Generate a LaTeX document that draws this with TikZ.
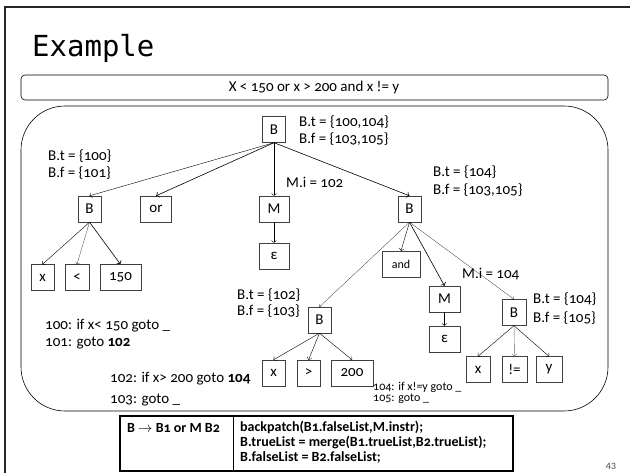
\documentclass[tikz,border=0pt]{standalone}
\usepackage{fontspec}
\setmainfont{Carlito}[Numbers=OldStyle]
\newfontfamily\titlefont{DejaVu Sans Mono}
\usetikzlibrary{arrows.meta}

\begin{document}
\begin{tikzpicture}[x=1pt, y=-1pt,
    tbox/.style={draw=black!75, thin, minimum width=23pt, minimum height=26pt, inner xsep=6pt, font=\fontsize{15}{15}\selectfont},
    attr/.style={anchor=west, inner sep=0pt, font=\fontsize{15}{17}\selectfont},
    small/.style={anchor=west, inner sep=0pt, font=\fontsize{12}{13}\selectfont},
    edge/.style={->, thin}]
    \useasboundingbox (0,0) rectangle (630,473);

    % Slide frame and title
    \draw[line width=2.5pt, black!85] (5,473) -- (5,7) -- (630,7);
    \node[anchor=base west, inner sep=0pt, font=\titlefont\fontsize{29}{29}\selectfont] (title) at (32,57) {Example};

    % Expression
    \draw[semithick, rounded corners=4pt] (21,75) rectangle (608,100);
    \node[font=\fontsize{15}{15}\selectfont] (expr) at (314,87.5) {X < 150 or x > 200 and x != y};

    % Parse tree frame
    \draw[semithick, rounded corners=44pt] (21,106) rectangle (608,411);

    % Tree nodes
    \node[tbox] (topB) at (274,129.5) {B};
    \node[tbox] (bA) at (89.5,209) {B};
    \node[tbox, minimum width=31pt] (orN) at (156,209) {or};
    \node[tbox, minimum width=30pt] (mA) at (274,209) {M};
    \node[tbox, minimum width=30pt] (epsA) at (274,256) {ε};
    \node[tbox] (xA) at (42.5,277.5) {x};
    \node[tbox, minimum width=24pt] (ltA) at (77,277.5) {<};
    \node[tbox, minimum width=41pt] (numA) at (120.5,277.5) {150};
    \node[tbox] (bB) at (409.5,209) {B};
    \node[tbox, minimum width=38pt, font=\fontsize{12}{12}\selectfont] (andN) at (401,264) {and};
    \node[tbox, minimum width=31pt] (mB) at (444.5,299) {M};
    \node[tbox, minimum width=31pt] (epsB) at (444.5,339) {ε};
    \node[tbox] (bC) at (319.5,320) {B};
    \node[tbox] (xB) at (273.5,373) {x};
    \node[tbox] (gtB) at (308.5,373) {>};
    \node[tbox, minimum width=42pt] (numB) at (352,373) {200};
    \node[tbox, minimum width=24pt] (bD) at (514,312.5) {B};
    \node[tbox, minimum width=24pt] (xC) at (478,369.5) {x};
    \node[tbox, minimum width=25pt] (neqC) at (514.5,369.5) {!=};
    \node[tbox, minimum width=26pt] (yC) at (549,369.5) {y};

    % Tree edges
    \draw[edge] (topB.south) -- (bA.north);
    \draw[edge, semithick] (topB.south) -- (orN.north);
    \draw[edge] (topB.south) -- (mA.north);
    \draw[edge, semithick] (topB.south) -- (bB.north);
    \draw[edge] (bA.south) -- (xA.north);
    \draw[edge, very thin] (bA.south) -- (ltA.north);
    \draw[edge, semithick] (bA.south) -- (numA.north);
    \draw[edge] (mA.south) -- (epsA.north);
    \draw[edge, very thin] (bB.south) -- (bC.north);
    \draw[edge] (bB.south) -- (andN.north);
    \draw[edge, semithick] (bB.south) -- (mB.north);
    \draw[edge, very thin] (bB.south) -- (bD.north);
    \draw[edge] (mB.south) -- (epsB.north);
    \draw[edge] (bC.south) -- (xB.north);
    \draw[edge] (bC.south) -- (gtB.north);
    \draw[edge] (bC.south) -- (numB.north);
    \draw[edge] (bD.south) -- (xC.north);
    \draw[edge, black!60] (bD.south) -- (neqC.north);
    \draw[edge] (bD.south) -- (yC.north);

    % Attributes
    \node[attr] (tBt) at (299,122) {B.t = \{100,104\}};
    \node[attr] (tBf) at (299,139) {B.f = \{103,105\}};
    \node[attr] (aBt) at (48,156) {B.t = \{100\}};
    \node[attr] (aBf) at (48,173) {B.f = \{101\}};
    \node[attr] (mAi) at (286,182) {M.i = 102};
    \node[attr] (bBt) at (433,172) {B.t = \{104\}};
    \node[attr] (bBf) at (433,190) {B.f = \{103,105\}};
    \node[attr] (mBi) at (462,274) {M.i = 104};
    \node[attr] (cBt) at (237,295) {B.t = \{102\}};
    \node[attr] (cBf) at (237,311) {B.f = \{103\}};
    \node[attr] (dBt) at (533,299) {B.t = \{104\}};
    \node[attr] (dBf) at (533,318) {B.f = \{105\}};

    % Generated code
    \node[attr] (codeA) at (45,326) {100: if x< 150 goto \_};
    \node[attr] (codeB) at (45,343) {101: goto \textbf{102}};
    \node[attr] (codeC) at (110,379) {102: if x> 200 goto \textbf{104}};
    \node[attr] (codeD) at (110,400) {103: goto \_};
    \node[small] (codeE) at (373,387) {104: if x!=y goto \_};
    \node[small] (codeF) at (373,399) {105: goto \_};

    % Semantic rule
    \draw[line width=2pt] (120,416) rectangle (513,471);
    \draw[thin] (233,416) -- (233,471);
    \node[anchor=west, inner sep=0pt, font=\bfseries\fontsize{14}{15}\selectfont] (prod) at (127,428) {B $\rightarrow$ B1 or M B2};
    \node[anchor=north west, inner sep=0pt, align=left, font=\bfseries\fontsize{14}{15}\selectfont] (rule) at (240,421) {backpatch(B1.falseList,M.instr);\\B.trueList = merge(B1.trueList,B2.trueList);\\B.falseList = B2.falseList;};

    % Page number
    \node[font=\fontsize{10}{10}\selectfont, black!70] (page) at (611,466) {43};
\end{tikzpicture}
\end{document}
